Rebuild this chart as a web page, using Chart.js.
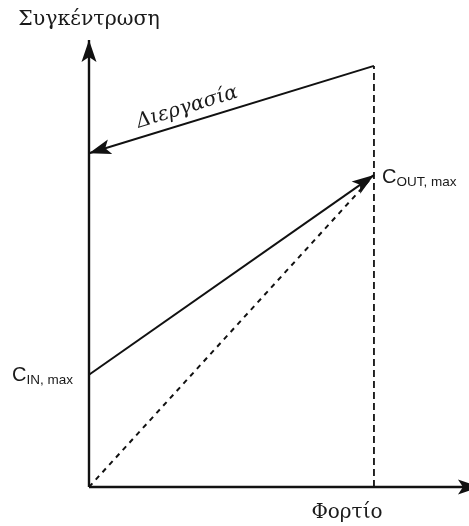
<!DOCTYPE html>
<html>
<head>
<meta charset="utf-8">
<script src="https://cdn.jsdelivr.net/npm/chart.js@4"></script>
<style>
  html, body { margin: 0; padding: 0; background: #fff; }
  #wrap { width: 469px; height: 526px; }
</style>
</head>
<body>
<div id="wrap"><canvas id="c" width="469" height="526"></canvas></div>
<script>
// Load (x) and concentration (y) in relative units; maximum load = 1
const loadPoints = [0, 1];          // zero load, maximum load
const inletConc = [0.36, 1.0];      // C_IN,max at zero load rising to C_OUT,max
const outletConc = [0, 1.0];        // dashed line from origin to C_OUT,max
const processConc = [1.35, 1.07];   // process line: at max load -> at zero load
const xRange = [0, 1.33];
const yRange = [0, 1.433];
const axisEnds = [1.372, 1.433];    // arrow tips of the x and y axes

const lbl = {
  yTitle: 'Συγκέντρωση',
  xTitle: 'Φορτίο',
  process: 'Διεργασία',
  cIn: ['C', 'IN, max'],
  cOut: ['C', 'OUT, max']
};

const pts = (xs, ys) => xs.map((x, i) => ({ x, y: ys[i] }));

const base = { showLine: true, pointRadius: 0, borderColor: '#111', clip: false, fill: false, tension: 0 };

const datasets = [
  { ...base, label: 'y axis', data: pts([0, 0], [0, axisEnds[1]]), borderWidth: 2.4, arrow: true },
  { ...base, label: 'x axis', data: pts([0, axisEnds[0]], [0, 0]), borderWidth: 2.4, arrow: true },
  { ...base, label: 'inlet', data: pts(loadPoints, inletConc), borderWidth: 2, arrow: true },
  { ...base, label: 'outlet', data: pts(loadPoints, outletConc), borderWidth: 2, borderDash: [5, 5] },
  { ...base, label: 'max load', data: pts([loadPoints[1], loadPoints[1]], [0, processConc[0]]), borderWidth: 1.8, borderDash: [7, 4] },
  { ...base, label: 'process', data: pts([loadPoints[1], loadPoints[0]], processConc), borderWidth: 2, arrow: true }
];

function arrowHead(ctx, x0, y0, x1, y1, len, half) {
  const a = Math.atan2(y1 - y0, x1 - x0);
  ctx.save();
  ctx.translate(x1, y1);
  ctx.rotate(a);
  ctx.beginPath();
  ctx.moveTo(0, 0);
  ctx.lineTo(-len, -half);
  ctx.lineTo(-len + 5, 0);
  ctx.lineTo(-len, half);
  ctx.closePath();
  ctx.fillStyle = '#111';
  ctx.fill();
  ctx.restore();
}

const decor = {
  id: 'decor',
  afterDatasetsDraw(chart) {
    const ctx = chart.ctx;
    const xs = chart.scales.x, ys = chart.scales.y;
    chart.data.datasets.forEach((ds, i) => {
      if (!ds.arrow) return;
      const el = chart.getDatasetMeta(i).data;
      const p0 = el[el.length - 2], p1 = el[el.length - 1];
      arrowHead(ctx, p0.x, p0.y, p1.x, p1.y, 22, 7.5);
    });

    ctx.save();
    ctx.fillStyle = '#1a1a1a';
    ctx.textBaseline = 'middle';
    // axis titles
    ctx.font = '20.5px "DejaVu Serif"';
    ctx.textAlign = 'center';
    ctx.fillText(lbl.yTitle, xs.getPixelForValue(0), 20);
    ctx.font = '20px "DejaVu Serif"';
    ctx.fillText(lbl.xTitle, xs.getPixelForValue(loadPoints[1]) - 27, 513);

    // process label along its line
    const ax = xs.getPixelForValue(loadPoints[0]), ay = ys.getPixelForValue(processConc[1]);
    const bx = xs.getPixelForValue(loadPoints[1]), by = ys.getPixelForValue(processConc[0]);
    const ang = Math.atan2(by - ay, bx - ax);
    const t = 0.36;
    ctx.save();
    ctx.translate(ax + (bx - ax) * t, ay + (by - ay) * t);
    ctx.rotate(ang);
    ctx.font = 'italic 20px "DejaVu Serif"';
    ctx.fillText(lbl.process, 0, -15);
    ctx.restore();

    // C labels with subscripts
    const sub = (parts, x, y) => {
      ctx.textAlign = 'left';
      ctx.font = '20px "Liberation Sans"';
      ctx.fillText(parts[0], x, y);
      const w = ctx.measureText(parts[0]).width;
      ctx.font = '13.5px "Liberation Sans"';
      ctx.fillText(parts[1], x + w, y + 5);
    };
    sub(lbl.cIn, 12, ys.getPixelForValue(inletConc[0]) + 1);
    sub(lbl.cOut, xs.getPixelForValue(loadPoints[1]) + 8, ys.getPixelForValue(inletConc[1]) + 2);
    ctx.restore();
  }
};

new Chart(document.getElementById('c'), {
  type: 'scatter',
  data: { datasets },
  options: {
    responsive: false,
    animation: false,
    events: [],
    layout: { padding: { left: 89, right: 1, top: 40, bottom: 39 } },
    plugins: { legend: { display: false }, tooltip: { enabled: false } },
    scales: {
      x: { type: 'linear', display: false, min: xRange[0], max: xRange[1] },
      y: { type: 'linear', display: false, min: yRange[0], max: yRange[1] }
    }
  },
  plugins: [decor]
});
</script>
</body>
</html>
